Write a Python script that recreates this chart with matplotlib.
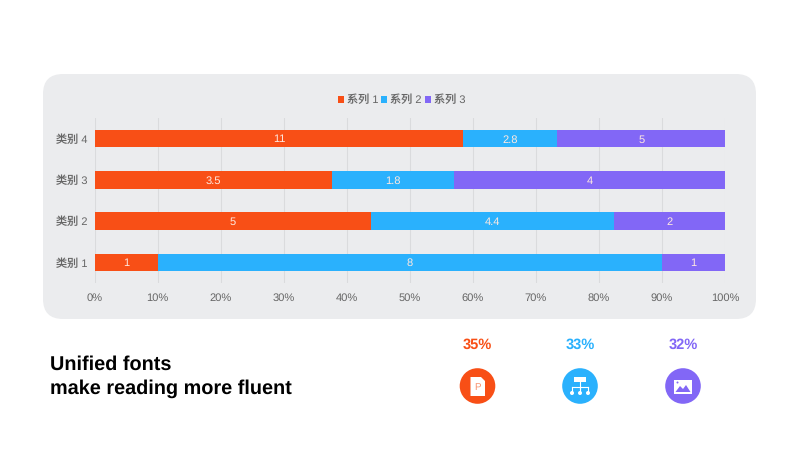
import numpy as np
import matplotlib.pyplot as plt
from matplotlib.patches import Circle, FancyBboxPatch, Polygon, Rectangle

categories = ["类别 1", "类别 2", "类别 3", "类别 4"]
series_names = ["系列 1", "系列 2", "系列 3"]
series_1 = [1, 5, 3.5, 11]
series_2 = [8, 4.4, 1.8, 2.8]
series_3 = [1, 2, 4, 5]
x_ticks = [0, 10, 20, 30, 40, 50, 60, 70, 80, 90, 100]
shares = ["35%", "33%", "32%"]
colors = ["#F84F16", "#2AB1FD", "#8267F6"]

plt.rcParams["font.family"] = ["Liberation Sans", "Noto Sans CJK SC"]
plt.rcParams["text.hinting"] = "no_hinting"
plt.rcParams["text.kerning_factor"] = 6

fig = plt.figure(figsize=(8, 4.5), dpi=100, facecolor="white")

# background layer in pixel coordinates, y pointing down
bg = fig.add_axes([0, 0, 1, 1], zorder=0)
bg.set_xlim(0, 800); bg.set_ylim(450, 0); bg.axis("off")
bg.add_patch(FancyBboxPatch((43, 74), 713, 245, boxstyle="round,pad=0,rounding_size=1",
                            mutation_scale=20, fc="#EBECEE", ec="none"))

ax = fig.add_axes([94.5 / 800, 1 - 283 / 450, 630.5 / 800, 165 / 450], zorder=1)
ax.patch.set_alpha(0)

values = np.array([series_1, series_2, series_3], dtype=float)
percent = values / values.sum(axis=0) * 100
left = np.zeros(len(categories))
for i, name in enumerate(series_names):
    bars = ax.barh(categories, percent[i], left=left, height=0.42, color=colors[i], label=name, zorder=3)
    labels = ax.bar_label(bars, labels=[f"{v:g}" for v in values[i]], label_type="center",
                          color="#FFE9E0", fontsize=8)
    for t in labels:
        t.xyann = (0, -0.7)  # sit a little lower in the bar
    left += percent[i]

ax.set_xlim(0, 100); ax.set_ylim(-0.5, 3.5)
ax.set_xticks(x_ticks, [f"{t}%" for t in x_ticks])
ax.grid(axis="x", color="#DADBDD", lw=0.8, zorder=0)
ax.tick_params(length=0, labelsize=8, labelcolor="#666666")
ax.tick_params(axis="x", pad=7)
ax.tick_params(axis="y", pad=5)
for s in ax.spines.values():
    s.set_visible(False)
ax.legend(loc="center", bbox_to_anchor=(0.487, 1.107), ncol=3, frameon=False, fontsize=8,
          labelcolor="#666666", handlelength=0.55, handleheight=0.55, handletextpad=0.25, columnspacing=0.3)

# front layer: headline, shares and the three icons
top = fig.add_axes([0, 0, 1, 1], zorder=2)
top.set_xlim(0, 800); top.set_ylim(450, 0); top.axis("off")
top.text(50, 364.5, "Unified fonts", fontsize=14.3, fontweight="bold", color="black", va="center")
top.text(50, 388.5, "make reading more fluent", fontsize=14.3, fontweight="bold", color="black", va="center")

for cx, share, c in zip([477.5, 580, 683], shares, colors):
    top.text(cx, 344.5, share, fontsize=10.5, fontweight="bold", color=c, ha="center", va="center")
    top.add_patch(Circle((cx, 386), 17.8, fc=c, ec="none"))

# document icon
top.add_patch(Polygon([(470.5, 377), (481, 377), (485, 381), (485, 396), (470.5, 396)], fc="white", ec="none"))
top.text(477.5, 387.5, "P", fontsize=7, color="#F8906C", ha="center", va="center")

# org chart icon
top.add_patch(Rectangle((574, 377), 12, 5, fc="white", ec="none"))
top.plot([580, 580], [382, 389], color="white", lw=0.8)
top.plot([572, 588], [387, 387], color="white", lw=0.8)
for nx in [572, 580, 588]:
    top.plot([nx, nx], [387, 392], color="white", lw=0.8)
    top.add_patch(Circle((nx, 393), 2, fc="white", ec="none"))

# picture icon
top.add_patch(Rectangle((674, 379.5), 18, 14, fc="white", ec="none"))
top.add_patch(Polygon([(675.5, 392), (680, 386), (683, 389), (686, 385), (690.5, 392)], fc=colors[2], ec="none"))
top.add_patch(Circle((677.5, 382.5), 1, fc=colors[2], ec="none"))

plt.savefig("out.png", dpi=100)
